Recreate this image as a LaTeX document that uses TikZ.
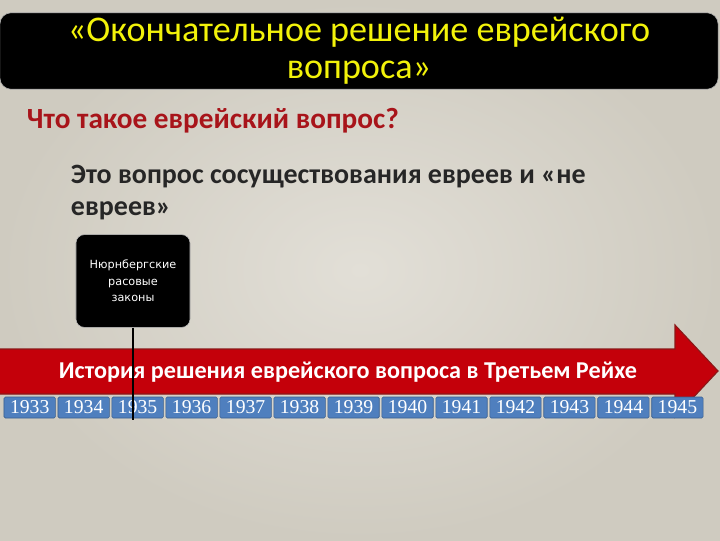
\documentclass[tikz,border=0pt]{standalone}
\usepackage{fontspec}
\setmainfont{Carlito}
\newfontfamily\boxfont{DejaVu Sans}
\newfontfamily\yearfont{Liberation Serif}
\usetikzlibrary{positioning}

\definecolor{bglight}{HTML}{E2DFD7}
\definecolor{bgdark}{HTML}{CFCBC0}
\definecolor{titleyellow}{HTML}{F2F20A}
\definecolor{questionred}{HTML}{A8141A}
\definecolor{answergray}{HTML}{262626}
\definecolor{timelinered}{HTML}{C4000A}
\definecolor{timelineedge}{HTML}{8A1818}
\definecolor{yearblue}{HTML}{4F7FBE}
\definecolor{yearedge}{HTML}{3A5F8E}

\tikzset{
  titlebox/.style={rectangle, rounded corners=8pt, fill=black, draw=gray!60,
    minimum width=17.95cm, minimum height=1.85cm, align=center,
    text=titleyellow, font=\fontsize{25.7}{26.2}\selectfont},
  question/.style={text=questionred, font=\fontsize{20.8}{24}\selectfont\bfseries},
  answer/.style={text=answergray, align=left, font=\fontsize{19.9}{22.7}\selectfont\bfseries},
  event/.style={rectangle, rounded corners=6pt, fill=black, draw=gray!50,
    minimum width=2.85cm, minimum height=2.32cm, align=center,
    text=white, font=\boxfont\fontsize{8}{11.7}\selectfont},
  timeline/.style={fill=timelinered, draw=timelineedge, line width=0.8pt},
  arrowtext/.style={text=white, font=\fontsize{17.2}{19}\selectfont\bfseries},
  year/.style={rectangle, rounded corners=1pt, fill=yearblue, draw=yearedge,
    minimum width=1.285cm, minimum height=0.525cm, inner sep=0pt,
    text=white, font=\yearfont\fontsize{14}{15}\selectfont},
  lawline/.style={line width=1.6pt, black}
}

\begin{document}
\begin{tikzpicture}[x=0.025cm, y=-0.025cm, node distance=0.05cm]
    \useasboundingbox (0,0) rectangle (720,540);
    \shade [inner color=bglight, outer color=bgdark] (0,0) rectangle (720,540);

    % heading and question
    \node [titlebox] (title) at (359,51) {«Окончательное решение еврейского\\вопроса»};
    \node [question, anchor=west] (question) at (22,121) {Что такое еврейский вопрос?};
    \node [answer, anchor=north west] (answer) at (66,160) {Это вопрос сосуществования евреев и «не\\евреев»};

    % event above the timeline
    \node [event] (nuremberg) at (133,281) {Нюрнбергские\\расовые\\законы};

    % timeline arrow
    \draw [timeline] (-2,349) -- (675,349) -- (675,325) -- (718,371) -- (675,417)
        -- (675,394) -- (-2,394) -- cycle;
    \node [arrowtext] (history) at (348,372) {История решения еврейского вопроса в Третьем Рейхе};

    % years
    \node [year] (y1933) at (29.7,407.5) {1933};
    \node [year] (y1934) [right=of y1933] {1934};
    \node [year] (y1935) [right=of y1934] {1935};
    \node [year] (y1936) [right=of y1935] {1936};
    \node [year] (y1937) [right=of y1936] {1937};
    \node [year] (y1938) [right=of y1937] {1938};
    \node [year] (y1939) [right=of y1938] {1939};
    \node [year] (y1940) [right=of y1939] {1940};
    \node [year] (y1941) [right=of y1940] {1941};
    \node [year] (y1942) [right=of y1941] {1942};
    \node [year] (y1943) [right=of y1942] {1943};
    \node [year] (y1944) [right=of y1943] {1944};
    \node [year] (y1945) [right=of y1944] {1945};

    \coordinate (lawend) at ([yshift=-2.3cm]nuremberg.south);
    \draw [lawline] (nuremberg.south) -- (lawend);
\end{tikzpicture}
\end{document}
